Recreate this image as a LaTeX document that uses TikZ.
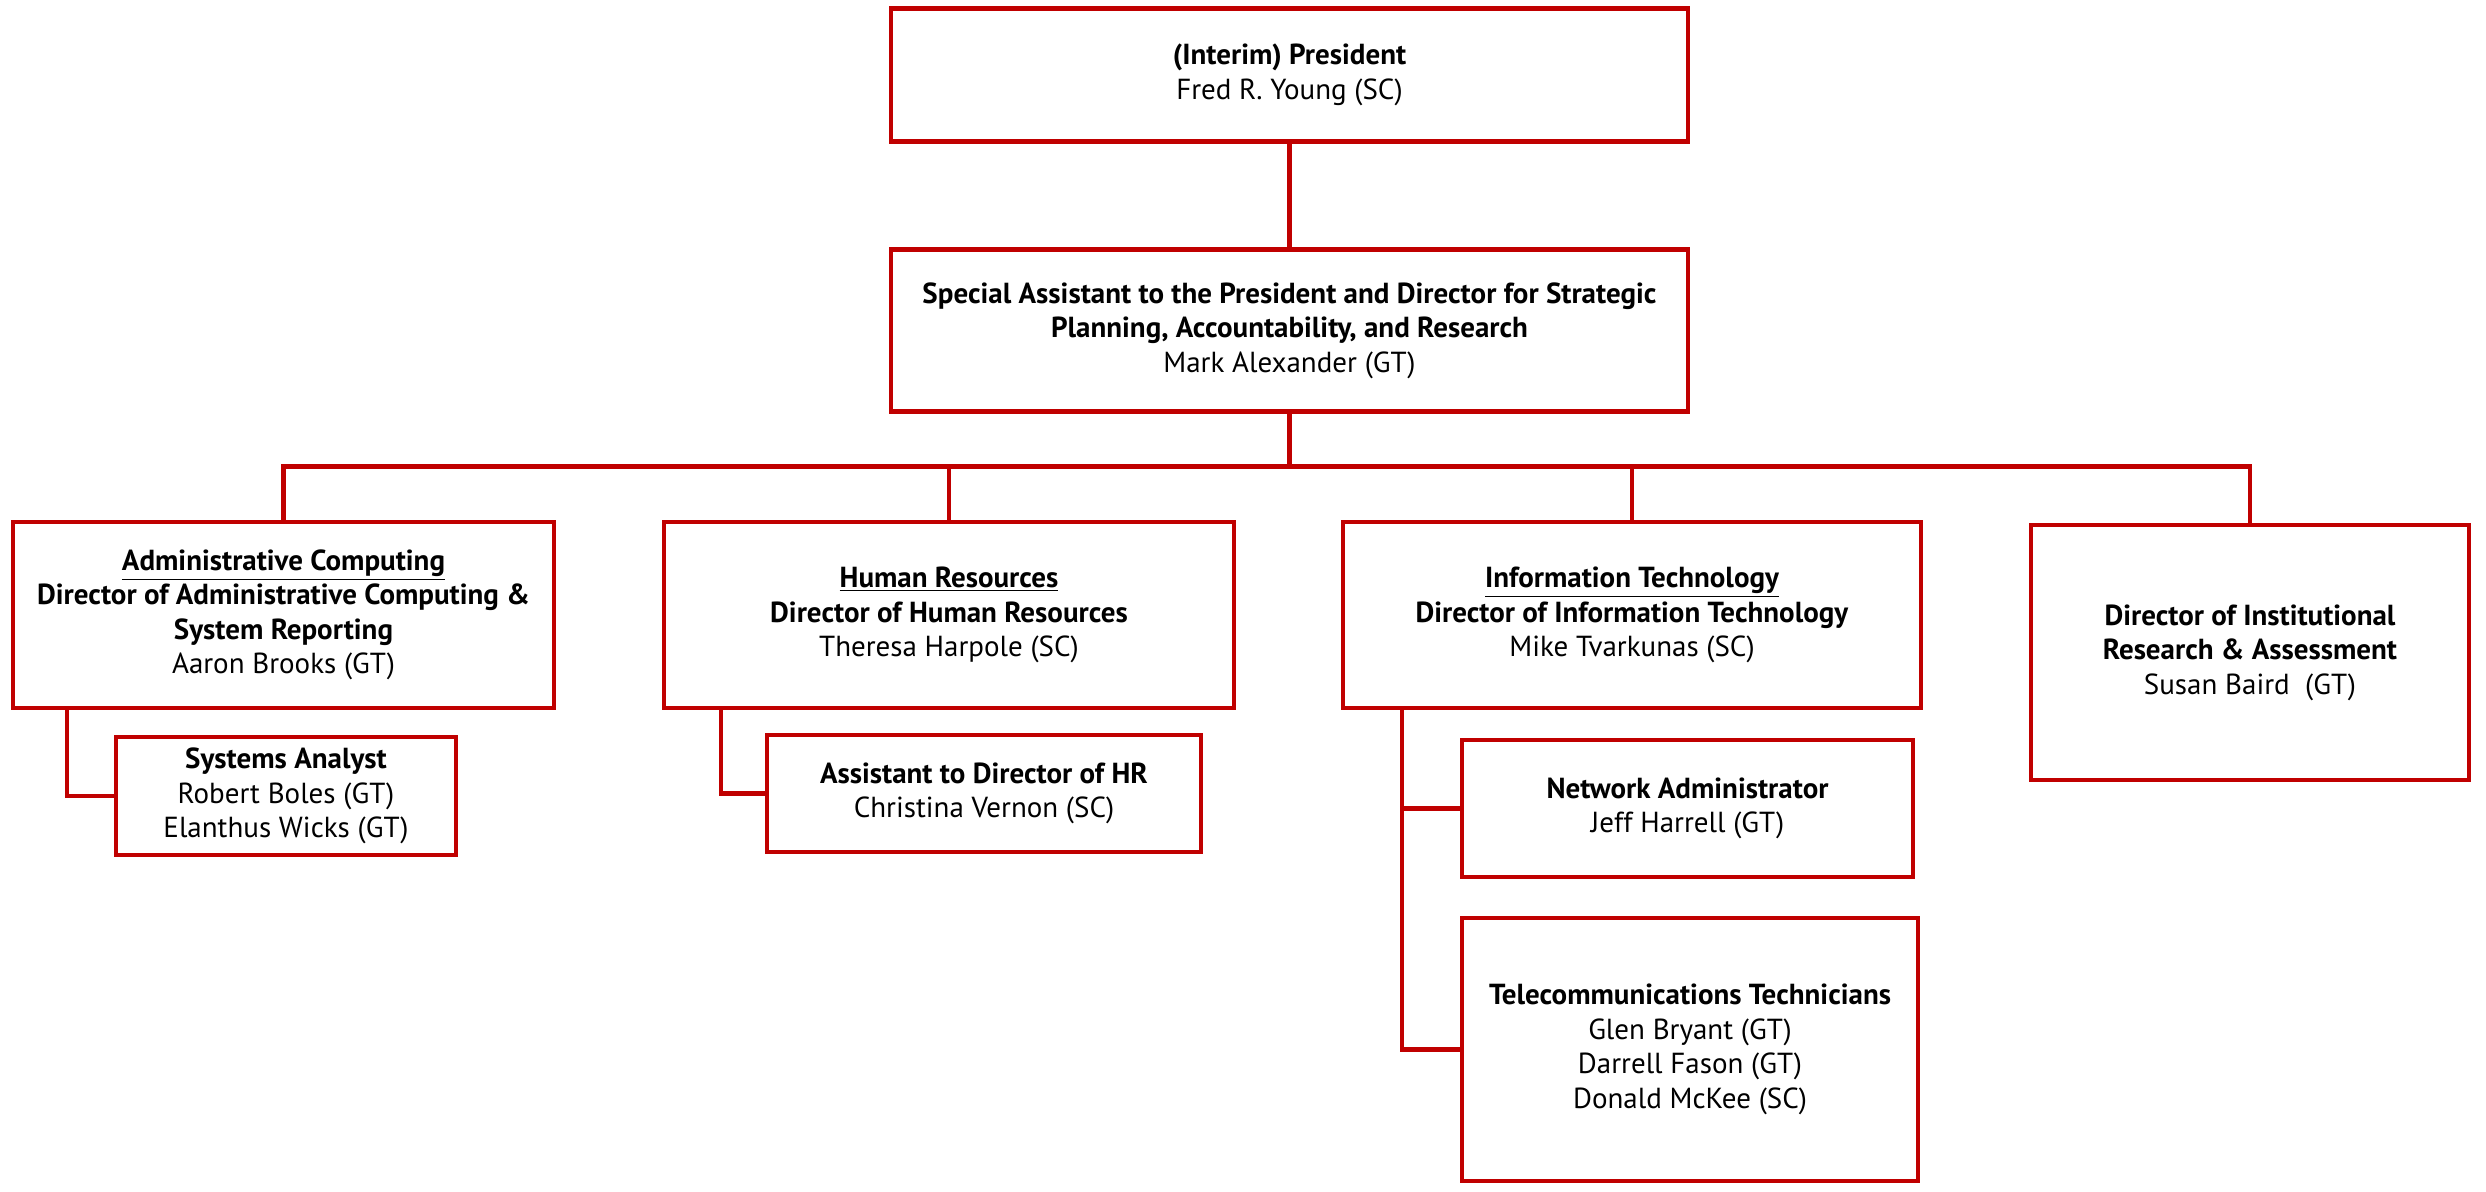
\documentclass[tikz,border=0pt]{standalone}
\usepackage{fontspec}
\setmainfont{PT Sans}
\usetikzlibrary{positioning}

\definecolor{chartred}{HTML}{C00000}

\tikzset{
  post/.style={draw=chartred,line width=2.3pt,rectangle,align=center,
    inner sep=2pt,outer sep=0pt,font=\fontsize{16.5}{19.6}\selectfont},
  link/.style={draw=chartred,line width=2.3pt}
}

\begin{document}
\begin{tikzpicture}[node distance=2.2cm]

            \useasboundingbox (0,0) rectangle (49.72,-23.84);

            \node[post,minimum width=15.94cm,minimum height=2.66cm] (pres) at (25.79,-1.5)
                {\textbf{(Interim) President}\\Fred R. Young (SC)};

            \node[post,minimum width=15.94cm,minimum height=3.24cm] (spec) [below=2.16cm of pres]
                {\textbf{Special Assistant to the President and Director for Strategic}\\
                 \textbf{Planning, Accountability, and Research}\\Mark Alexander (GT)};

            \node[post,minimum width=10.82cm,minimum height=3.72cm] (adm) at (5.67,-12.3)
                {\textbf{\underline{Administrative Computing}}\\
                 \textbf{Director of Administrative Computing \&}\\
                 \textbf{System Reporting}\\Aaron Brooks (GT)};

            \node[post,minimum width=11.4cm,minimum height=3.72cm] (hr) [right=of adm]
                {\textbf{\underline{Human Resources}}\\
                 \textbf{Director of Human Resources}\\Theresa Harpole (SC)};

            \node[post,minimum width=11.56cm,minimum height=3.72cm] (it) [right=2.18cm of hr]
                {\textbf{\underline{Information Technology}}\\
                 \textbf{Director of Information Technology}\\Mike Tvarkunas (SC)};

            \node[post,minimum width=8.76cm,minimum height=5.1cm,anchor=north west] (ir)
                at ([xshift=2.2cm,yshift=-0.06cm]it.north east)
                {\textbf{Director of Institutional}\\
                 \textbf{Research \& Assessment}\\Susan Baird~ (GT)};

            \node[post,minimum width=6.8cm,minimum height=2.36cm] (sa)
                [below right=0.58cm and 2.06cm of adm.south west]
                {\textbf{Systems Analyst}\\Robert Boles (GT)\\Elanthus Wicks (GT)};

            \node[post,minimum width=8.68cm,minimum height=2.34cm] (ahr)
                [below right=0.54cm and 2.06cm of hr.south west]
                {\textbf{Assistant to Director of HR}\\Christina Vernon (SC)};

            \node[post,minimum width=9.02cm,minimum height=2.74cm] (na)
                [below right=0.64cm and 2.38cm of it.south west]
                {\textbf{Network Administrator}\\Jeff Harrell (GT)};

            \node[post,minimum width=9.12cm,minimum height=5.26cm,anchor=north west] (tel)
                at ([yshift=-0.82cm]na.south west)
                {\textbf{Telecommunications Technicians}\\Glen Bryant (GT)\\
                 Darrell Fason (GT)\\Donald McKee (SC)};

            \coordinate (bus) at ([yshift=-1.1cm]spec.south);

            % top of the chart
            \draw[link] (pres.south) -- (spec.north);
            \draw[link] (spec.south) -- (bus);
            \draw[link] (adm.north) |- (bus) -| (ir.north);
            \draw[link] (hr.north) |- (bus);
            \draw[link] (it.north) |- (bus);

            % staff under each director
            \draw[link] ([xshift=1.08cm]adm.south west) |- (sa.west);
            \draw[link] ([xshift=1.14cm]hr.south west) |- (ahr.west);
            \draw[link] ([xshift=1.18cm]it.south west) |- (tel.west);
            \draw[link] (na.west) -| ([xshift=1.18cm]it.south west);

        \end{tikzpicture}
\end{document}
